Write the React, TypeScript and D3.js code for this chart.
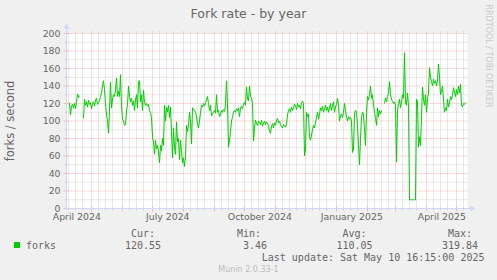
import React from "react";
import * as d3 from "d3";

const W = 497;
const H = 280;

// time frame (munin year graph = 400 days)
const endTime = new Date(Date.UTC(2025, 4, 10, 16, 15));
const startTime = new Date(endTime.getTime() - 400 * 86400000);
const firstSample = new Date(Date.UTC(2024, 3, 8, 16, 15));

// daily fork rate (forks / second), NaN = no data
const forksValues: number[] = [
  121, 107, 117, 119, 115, 120, 114, 122, 131, 127,
  129, NaN, NaN, NaN, 103, 125, 118, 122, 116, 124,
  119, 121, 114, 120, 122, 117, 124, 126, 119, 121,
  123, 128, 132, 140, 146, 136, 120, 108, 100, 86,
  112, 144, 115, 125, 130, 128, 135, 149, 128, 134,
  128, 153, 118, 102, 100, 95, 96, 112, 118, 140,
  128, 122, 126, 118, 123, 112, 124, 130, 115, 145,
  146, 122, 130, 112, 135, 122, 118, 120, 117, 119,
  112, 110, 104, 82, 76, 62, 78, 68, 72, 65,
  52, 72, 66, 80, 72, 118, 100, 116, 110, 118,
  104, 116, 88, 58, 92, 70, 62, 99, 76, 80,
  56, 78, 66, 52, 58, 48, 60, 95, 88, 96,
  110, 100, 74, 115, 114, 112, 110, 106, 96, 92,
  100, 110, 118, 116, 120, 117, 121, 124, 128, 120,
  112, 118, 106, 108, 110, 112, 109, 130, 110, 112,
  105, 107, 112, 110, 113, 111, 118, 146, 120, 70,
  78, 88, 100, 104, 110, 112, 110, 114, 112, 115,
  105, 115, 117, 114, 120, 121, 118, 139, 125, 123,
  140, 128, 127, 120, 77, 93, 101, 97, 95, 100,
  98, 96, 101, 94, 98, 100, 96, 99, 97, 95,
  88, 86, 94, 97, 92, 98, 95, 100, 103, 98,
  100, 96, 94, 92, 96, 95, 93, 96, 107, 112,
  114, 110, 116, 112, 115, 119, 117, 113, 120, 116,
  118, 114, 121, 123, 120, 60, 68, 110, 105, 108,
  82, 78, 84, 90, 95, 92, 98, 104, 110, 102,
  108, 115, 112, 117, 110, 114, 118, 112, 116, 110,
  115, 120, 112, 118, 122, 110, 116, 119, 126, 118,
  100, 106, 108, 104, 110, 120, 112, 104, 100, 105,
  102, 104, 100, 64, 68, 108, 112, 110, 95, 72,
  50, 80, 104, 110, 108, 90, 72, 110, 128, 124,
  130, 140, 126, 130, 118, 110, 104, 95, 115, 105,
  112, 108, 112, NaN, NaN, 120, 126, 122, 128, 132,
  145, 130, 125, 122, 120, 122, 118, 53, 112, 120,
  125, 115, 122, 130, 126, 178, 120, 118, 132, 118,
  10, 10, 10, 10, 10, 10, 10, 125, 122, 70,
  82, 72, 105, 139, 125, 118, 130, 110, 125, 132,
  161, 150, 145, 140, 148, 143, 146, 140, 147, 165,
  150, 130, 134, 140, 125, 110, 115, 112, 125, 116,
  121, 128, 124, 130, 138, 132, 128, 136, 130, 140,
  132, 142, 118, 116, 120, 119, 121,
];

const yMajorTicks = [0, 20, 40, 60, 80, 100, 120, 140, 160, 180, 200];
const yMinorTicks = [10, 30, 50, 70, 90, 110, 130, 150, 170, 190];
const xLabelMonths = [
  new Date(Date.UTC(2024, 3, 1)),
  new Date(Date.UTC(2024, 6, 1)),
  new Date(Date.UTC(2024, 9, 1)),
  new Date(Date.UTC(2025, 0, 1)),
  new Date(Date.UTC(2025, 3, 1)),
];
const xLabelTexts = ["April 2024", "July 2024", "October 2024", "January 2025", "April 2025"];

const legendName = "forks";
const legendHeaders = ["Cur:", "Min:", "Avg:", "Max:"];
const legendValues = ["120.55", "3.46", "110.05", "319.84"];
const lastUpdate = "Last update: Sat May 10 16:15:00 2025";

const LEFT = 66.5;
const RIGHT = 466.5;
const TOP = 33.5;
const BOTTOM = 208.5;

const FONT = "#666666";
const AXIS = "#CFD6F8";
const MGRID = "#F4B2B2";
const GRID = "#D0D0D0";
const LINE = "#00CC00";

export default function App() {
  const x = d3.scaleTime().domain([startTime, endTime]).range([LEFT, RIGHT]);
  const y = d3.scaleLinear().domain([0, 200]).range([BOTTOM, TOP]);

  const data = forksValues.map((v, i) => ({ t: d3.utcDay.offset(firstSample, i), v }));
  const line = d3
    .line<{ t: Date; v: number }>()
    .defined((d) => !isNaN(d.v))
    .x((d) => x(d.t))
    .y((d) => y(d.v));

  const monthStarts = d3.utcMonth.range(startTime, endTime);
  const minorDates: Date[] = [];
  d3.utcMonth.range(d3.utcMonth.floor(startTime), endTime).forEach((m) => {
    [7, 14, 21].forEach((k) => {
      const d = d3.utcDay.offset(m, k);
      if (d > startTime && d < endTime) minorDates.push(d);
    });
  });

  const snap = (v: number) => Math.floor(v) + 0.5;

  const colEnds = [161, 267, 372.5, 478];

  return (
    <svg width={W} height={H} style={{ display: "block", position: "absolute", left: 0, top: 0 }}>
      <rect x={0} y={0} width={W} height={H} fill="#F0F0F0" />
      <rect x={LEFT} y={TOP - 0.5} width={RIGHT - LEFT + 1} height={BOTTOM - TOP} fill="#FFFFFF" />

      {/* minor grid */}
      {minorDates.map((d, i) => (
        <g key={"mv" + i}>
          <line x1={snap(x(d))} x2={snap(x(d))} y1={TOP - 2} y2={BOTTOM} stroke={GRID} strokeDasharray="1,1" />
          <line x1={snap(x(d))} x2={snap(x(d))} y1={BOTTOM - 1} y2={BOTTOM + 2} stroke={GRID} />
        </g>
      ))}
      {yMinorTicks.map((v) => (
        <g key={"mh" + v}>
          <line x1={LEFT} x2={RIGHT + 1} y1={y(v)} y2={y(v)} stroke={GRID} strokeDasharray="1,1" />
          <line x1={LEFT - 2} x2={LEFT + 1} y1={y(v)} y2={y(v)} stroke={GRID} />
        </g>
      ))}
      {/* major grid */}
      {monthStarts.map((d, i) => (
        <g key={"Mv" + i}>
          <line x1={snap(x(d))} x2={snap(x(d))} y1={TOP - 2} y2={BOTTOM} stroke={MGRID} strokeDasharray="1,1" />
          <line x1={snap(x(d))} x2={snap(x(d))} y1={BOTTOM - 2} y2={BOTTOM + 3} stroke={MGRID} />
        </g>
      ))}
      {yMajorTicks.map((v) => (
        <g key={"Mh" + v}>
          <line x1={LEFT} x2={RIGHT + 1} y1={y(v)} y2={y(v)} stroke={MGRID} strokeDasharray="1,1" />
          <line x1={LEFT - 3} x2={LEFT + 2} y1={y(v)} y2={y(v)} stroke={MGRID} />
        </g>
      ))}

      {/* axes */}
      <line x1={LEFT} x2={LEFT} y1={BOTTOM + 1} y2={TOP - 6} stroke={AXIS} />
      <path d={`M${LEFT - 3},${TOP - 5} L${LEFT + 3},${TOP - 5} L${LEFT},${TOP - 10} Z`} fill={AXIS} />
      <line x1={LEFT - 1} x2={RIGHT + 5} y1={BOTTOM} y2={BOTTOM} stroke={AXIS} />
      <path d={`M${RIGHT + 4},${BOTTOM - 3} L${RIGHT + 4},${BOTTOM + 3} L${RIGHT + 9},${BOTTOM} Z`} fill={AXIS} />

      {/* data line */}
      <path d={line(data) || ""} fill="none" stroke={LINE} strokeWidth={1} />

      {/* y tick labels */}
      {yMajorTicks.map((v) => (
        <text
          key={"yl" + v}
          x={60.5}
          y={y(v) + 3.4}
          textAnchor="end"
          fontFamily="DejaVu Sans"
          fontSize={9.33}
          fill={FONT}
        >
          {v}
        </text>
      ))}
      {/* x tick labels */}
      {xLabelMonths.map((m, i) => (
        <text
          key={"xl" + i}
          x={x(d3.utcDay.offset(m, 15))}
          y={219.8}
          textAnchor="middle"
          fontFamily="DejaVu Sans"
          fontSize={9.33}
          fill={FONT}
        >
          {xLabelTexts[i]}
        </text>
      ))}

      {/* title */}
      <text x={248.5} y={18.3} textAnchor="middle" fontFamily="DejaVu Sans" fontSize={12.5} fill={FONT}>
        Fork rate - by year
      </text>
      {/* y axis label */}
      <text
        transform={`translate(14, ${(TOP + BOTTOM) / 2}) rotate(-90)`}
        textAnchor="middle"
        fontFamily="DejaVu Sans"
        fontSize={11.5}
        fill={FONT}
      >
        forks / second
      </text>
      {/* watermark */}
      <text
        transform="translate(486, 56) rotate(90)"
        textAnchor="middle"
        fontFamily="DejaVu Sans"
        fontSize={8}
        fill="#C8C8C8"
      >
        RRDTOOL / TOBI OETIKER
      </text>

      {/* legend */}
      <rect x={14} y={242} width={6} height={6} fill={LINE} />
      <text x={26} y={248.7} fontFamily="DejaVu Sans Mono" fontSize={10} fill={FONT}>
        {legendName}
      </text>
      {legendHeaders.map((h, i) => (
        <text
          key={"lh" + i}
          x={colEnds[i] - 6}
          y={236.7}
          textAnchor="end"
          fontFamily="DejaVu Sans Mono"
          fontSize={10}
          fill={FONT}
        >
          {h}
        </text>
      ))}
      {legendValues.map((v, i) => (
        <text
          key={"lv" + i}
          x={colEnds[i]}
          y={248.7}
          textAnchor="end"
          fontFamily="DejaVu Sans Mono"
          fontSize={10}
          fill={FONT}
        >
          {v}
        </text>
      ))}
      <text x={484.5} y={260.5} textAnchor="end" fontFamily="DejaVu Sans Mono" fontSize={10} fill={FONT}>
        {lastUpdate}
      </text>
      <text x={248.5} y={271.5} textAnchor="middle" fontFamily="DejaVu Sans" fontSize={8} fill="#BBBBBB">
        Munin 2.0.33-1
      </text>
    </svg>
  );
}
